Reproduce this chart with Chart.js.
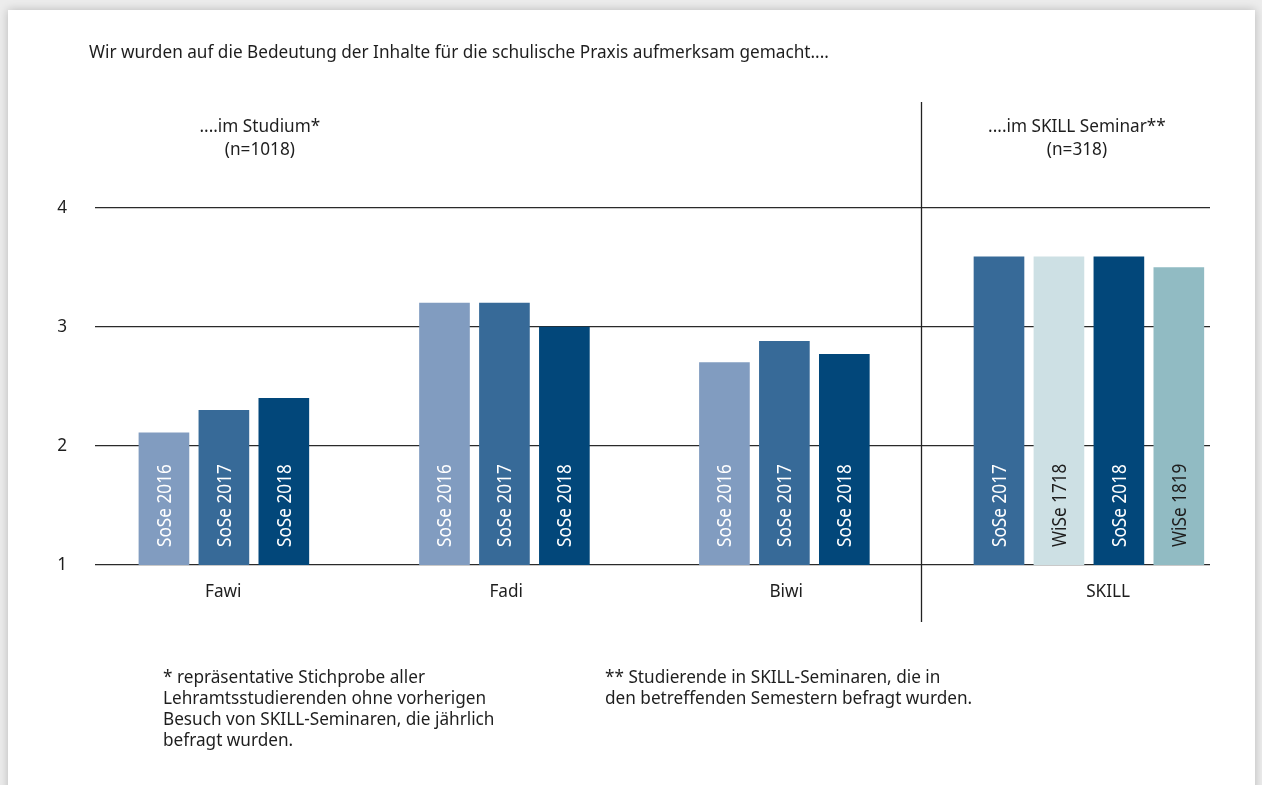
<!doctype html>
<html lang="de">
<head>
<meta charset="utf-8">
<title>Bedeutung der Inhalte</title>
<script src="https://cdn.jsdelivr.net/npm/chart.js@4.4.1/dist/chart.umd.min.js"></script>
<style>
  html, body { margin: 0; padding: 0; }
  body { width: 1262px; height: 785px; background: #ececec; overflow: hidden; position: relative;
         font-family: "Noto Sans", sans-serif; color: #1e1e1e; }
  #card { position: absolute; left: 8px; top: 10px; width: 1247px; height: 800px; background: #fff;
          box-shadow: 0 0 9px rgba(0,0,0,0.22); }
  #chartBox { position: absolute; left: 0; top: 0; width: 1262px; height: 785px; }
  .txt { position: absolute; font-size: 17.2px; line-height: 21px; white-space: nowrap; }
</style>
</head>
<body>
<div id="card"></div>
<div id="chartBox"><canvas id="myChart"></canvas></div>
<div class="txt" style="left:89px; top:41px;">Wir wurden auf die Bedeutung der Inhalte für die schulische Praxis aufmerksam gemacht....</div>
<div class="txt" style="left:163px; top:666px;">* repräsentative Stichprobe aller<br>Lehramtsstudierenden ohne vorherigen<br>Besuch von SKILL-Seminaren, die jährlich<br>befragt wurden.</div>
<div class="txt" style="left:605px; top:666px;">** Studierende in SKILL-Seminaren, die in<br>den betreffenden Semestern befragt wurden.</div>
<script>
// Kategorien und Werte (Mittelwerte, Skala 1-4)
const categories = ["Fawi", "Fadi", "Biwi", "SKILL"];
const studiumSemesters = ["SoSe 2016", "SoSe 2017", "SoSe 2018"];
const skillSemesters = ["SoSe 2017", "WiSe 1718", "SoSe 2018", "WiSe 1819"];
const fawiValues = [2.11, 2.3, 2.4];
const fadiValues = [3.2, 3.2, 3.0];
const biwiValues = [2.7, 2.88, 2.77];
const skillValues = [3.59, 3.59, 3.59, 3.5];
const yTicks = [1, 2, 3, 4];
const groupNotes = [["....im Studium*", "(n=1018)"], ["....im SKILL Seminar**", "(n=318)"]];

// Layout (x-Einheiten = Balkenabstand)
const groupStart = [1.15, 5.83, 10.5, 15.08];
const labelPos = [2.14, 6.86, 11.53, 16.9];
const notePos = [2.75, 16.38];
const dividerPos = 13.78;

const semesterColor = {
  "SoSe 2016": "#819cc0",
  "SoSe 2017": "#376a98",
  "SoSe 2018": "#02477a",
  "WiSe 1718": "#cde0e4",
  "WiSe 1819": "#91bbc3"
};
const darkText = { "WiSe 1718": true, "WiSe 1819": true };

const points = [], colors = [], barLabels = [];
const groups = [
  [fawiValues, studiumSemesters],
  [fadiValues, studiumSemesters],
  [biwiValues, studiumSemesters],
  [skillValues, skillSemesters]
];
groups.forEach(function (g, gi) {
  g[0].forEach(function (v, i) {
    points.push({ x: groupStart[gi] + i, y: v });
    colors.push(semesterColor[g[1][i]]);
    barLabels.push(g[1][i]);
  });
});

// Beschriftung in den Balken, Trennlinie und Gruppenkoepfe
const extras = {
  id: "extras",
  afterDatasetsDraw(chart) {
    const ctx = chart.ctx;
    const xs = chart.scales.x;
    const area = chart.chartArea;
    const meta = chart.getDatasetMeta(0);
    meta.data.forEach(function (bar, i) {
      ctx.save();
      ctx.translate(bar.x + 1, area.bottom - 18);
      ctx.rotate(-Math.PI / 2);
      ctx.scale(0.86, 1);
      ctx.font = "20px 'Noto Sans'";
      ctx.textAlign = "left";
      ctx.textBaseline = "middle";
      ctx.fillStyle = darkText[barLabels[i]] ? "#1e1e1e" : "#ffffff";
      ctx.fillText(barLabels[i], 0, 0);
      ctx.restore();
    });

    const dx = Math.round(xs.getPixelForValue(dividerPos)) + 0.5;
    ctx.save();
    ctx.strokeStyle = "#222";
    ctx.lineWidth = 1.3;
    ctx.beginPath();
    ctx.moveTo(dx, 102);
    ctx.lineTo(dx, 622);
    ctx.stroke();

    ctx.font = "17.2px 'Noto Sans'";
    ctx.fillStyle = "#1e1e1e";
    ctx.textAlign = "center";
    ctx.textBaseline = "middle";
    groupNotes.forEach(function (n, i) {
      const px = xs.getPixelForValue(notePos[i]);
      ctx.fillText(n[0], px, 127);
      ctx.fillText(n[1], px, 150);
    });
    ctx.restore();
  }
};

new Chart(document.getElementById("myChart"), {
  type: "bar",
  data: {
    datasets: [{
      data: points,
      backgroundColor: colors,
      barThickness: 50,
      borderWidth: 0
    }]
  },
  options: {
    responsive: true,
    maintainAspectRatio: false,
    animation: false,
    layout: { padding: { left: 0, right: 52, top: 208, bottom: 180 } },
    plugins: { legend: { display: false }, tooltip: { enabled: false } },
    scales: {
      x: {
        type: "linear",
        offset: false,
        min: 0,
        max: 18.6,
        grid: { display: false },
        border: { display: false },
        afterBuildTicks(scale) {
          scale.ticks = labelPos.map(function (v) { return { value: v }; });
        },
        afterFit(scale) { scale.height = 40; },
        ticks: {
          autoSkip: false,
          maxRotation: 0,
          padding: 9,
          color: "#1e1e1e",
          font: { family: "'Noto Sans'", size: 17.2 },
          callback: function (value, index) { return categories[index]; }
        }
      },
      y: {
        min: 1,
        max: 4,
        afterBuildTicks(scale) {
          scale.ticks = yTicks.map(function (v) { return { value: v }; });
        },
        afterFit(scale) { scale.width = 95; },
        border: { display: false },
        grid: { color: "#2a2a2a", lineWidth: 1.3, drawTicks: false },
        ticks: {
          padding: 28,
          color: "#1e1e1e",
          font: { family: "'Noto Sans'", size: 17.2 }
        }
      }
    }
  },
  plugins: [extras]
});
</script>
</body>
</html>
